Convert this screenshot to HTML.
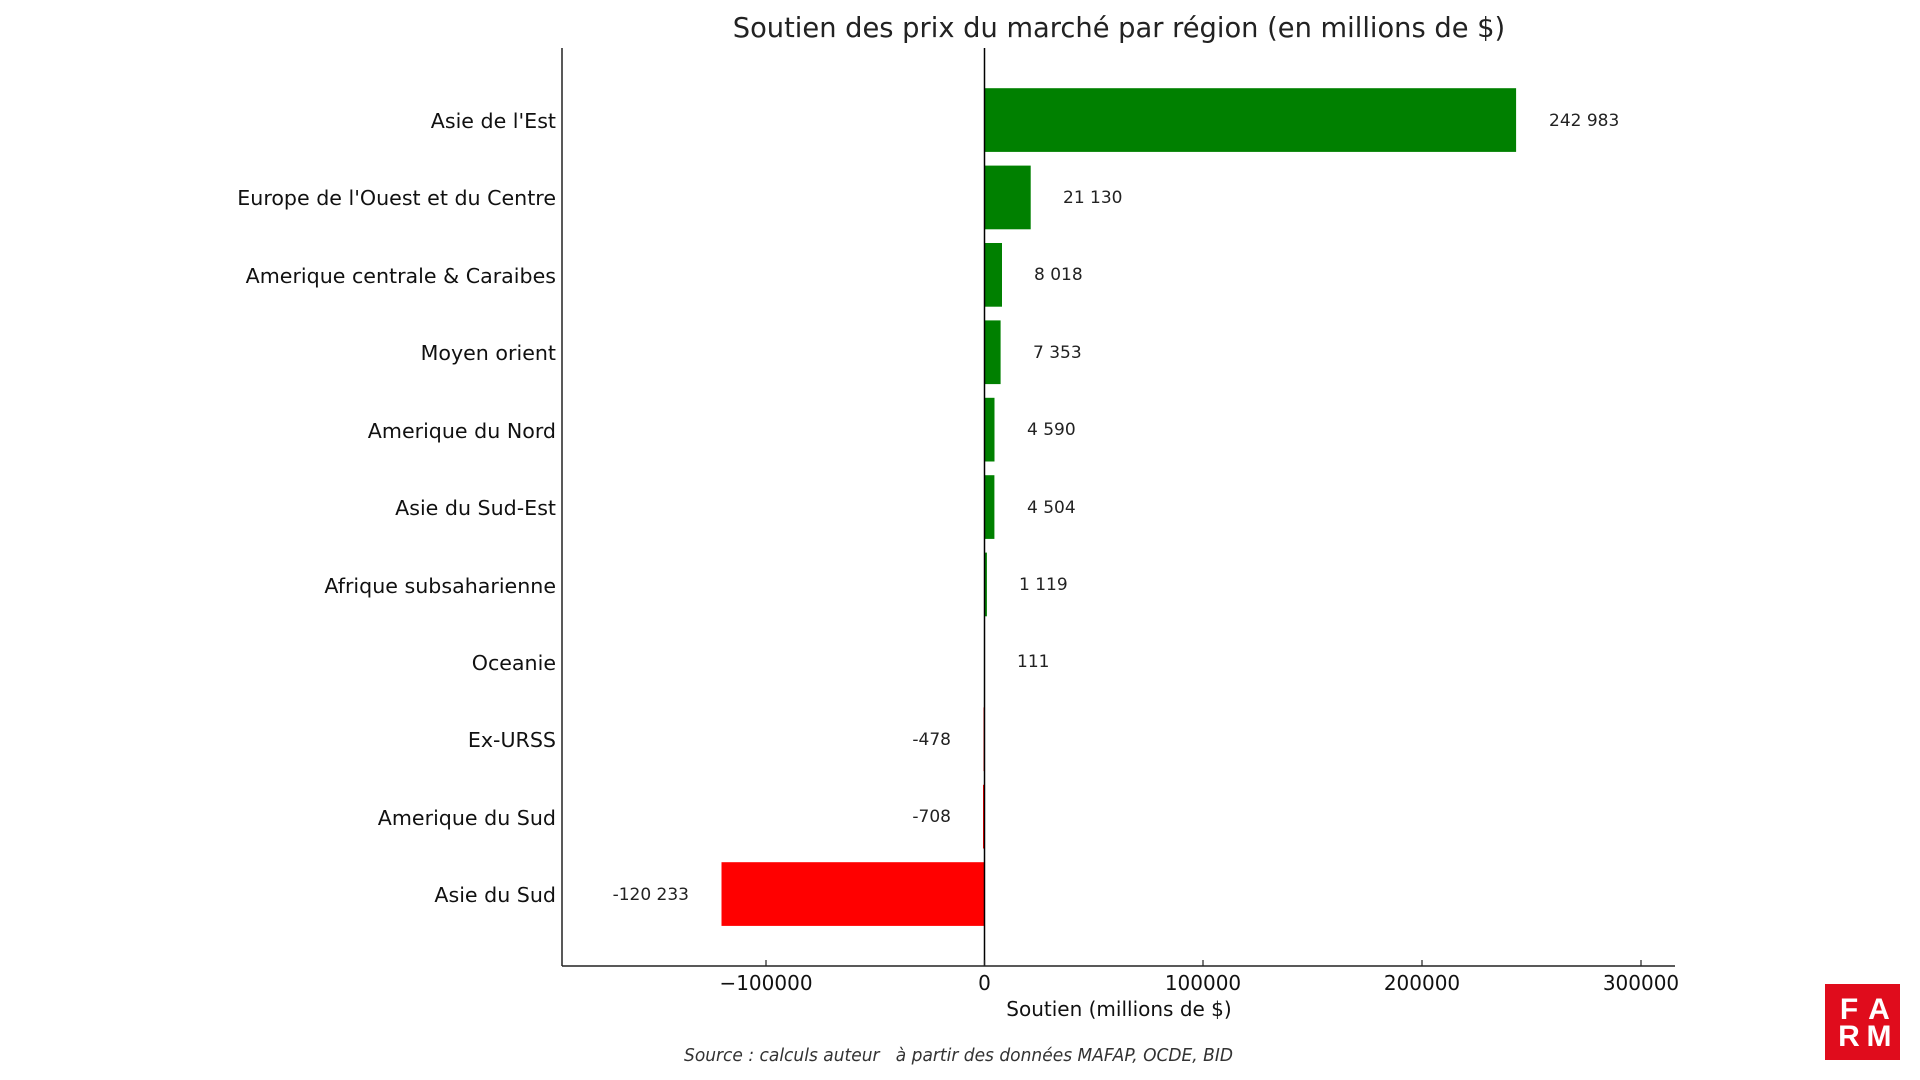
<!DOCTYPE html>
<html><head><meta charset="utf-8"><style>body{margin:0;background:#fff}svg{display:block}</style></head>
<body>
<svg width="1920" height="1080" xmlns="http://www.w3.org/2000/svg" font-family="DejaVu Sans, Liberation Sans, sans-serif">
<text x="1119" y="37" font-size="27.3" text-anchor="middle" fill="#222">Soutien des prix du marché par région (en millions de $)</text>
<g>
<rect x="984.5" y="88.2" width="531.6" height="63.7" fill="#008000"/>
<rect x="984.5" y="165.6" width="46.2" height="63.7" fill="#008000"/>
<rect x="984.5" y="243" width="17.5" height="63.7" fill="#008000"/>
<rect x="984.5" y="320.4" width="16.1" height="63.7" fill="#008000"/>
<rect x="984.5" y="397.8" width="10" height="63.7" fill="#008000"/>
<rect x="984.5" y="475.2" width="9.9" height="63.7" fill="#008000"/>
<rect x="984.5" y="552.6" width="2.4" height="63.7" fill="#008000"/>
<rect x="984.5" y="630" width="0.5" height="63.7" fill="#008000"/>
<rect x="983.5" y="707.4" width="1.0" height="63.7" fill="#ff0000"/>
<rect x="983" y="784.8" width="1.5" height="63.7" fill="#ff0000"/>
<rect x="721.5" y="862.2" width="263" height="63.7" fill="#ff0000"/>
</g>
<line x1="984.5" y1="48" x2="984.5" y2="966" stroke="#000" stroke-width="1.5"/>
<line x1="562" y1="48" x2="562" y2="966" stroke="#222" stroke-width="1.5"/>
<line x1="562" y1="966" x2="1675" y2="966" stroke="#222" stroke-width="1.5"/>
<g stroke="#222" stroke-width="1.2">
<line x1="766" y1="966" x2="766" y2="960"/><line x1="984.5" y1="966" x2="984.5" y2="960"/>
<line x1="1203" y1="966" x2="1203" y2="960"/><line x1="1422" y1="966" x2="1422" y2="960"/>
<line x1="1641" y1="966" x2="1641" y2="960"/>
</g>
<g font-size="20" fill="#111" text-anchor="middle">
<text x="766" y="990">−100000</text><text x="984.5" y="990">0</text>
<text x="1203" y="990">100000</text><text x="1422" y="990">200000</text><text x="1641" y="990">300000</text>
<text x="1119" y="1016">Soutien (millions de $)</text>
</g>
<g font-size="20.6" fill="#111" text-anchor="end">
<text x="556" y="128">Asie de l'Est</text>
<text x="556" y="205">Europe de l'Ouest et du Centre</text>
<text x="556" y="283">Amerique centrale &amp; Caraibes</text>
<text x="556" y="360">Moyen orient</text>
<text x="556" y="438">Amerique du Nord</text>
<text x="556" y="515">Asie du Sud-Est</text>
<text x="556" y="593">Afrique subsaharienne</text>
<text x="556" y="670">Oceanie</text>
<text x="556" y="747">Ex-URSS</text>
<text x="556" y="825">Amerique du Sud</text>
<text x="556" y="902">Asie du Sud</text>
</g>
<g font-size="17" fill="#222">
<text x="1549" y="126">242 983</text>
<text x="1063" y="203">21 130</text>
<text x="1034" y="280">8 018</text>
<text x="1033" y="358">7 353</text>
<text x="1027" y="435">4 590</text>
<text x="1027" y="513">4 504</text>
<text x="1019" y="590">1 119</text>
<text x="1017" y="667">111</text>
<text x="951" y="745" text-anchor="end">-478</text>
<text x="951" y="822" text-anchor="end">-708</text>
<text x="689" y="900" text-anchor="end">-120 233</text>
</g>
<text x="684" y="1061" font-size="17.4" font-style="italic" fill="#333" textLength="549" lengthAdjust="spacingAndGlyphs" xml:space="preserve">Source : calculs auteur   à partir des données MAFAP, OCDE, BID</text>
<rect x="1825" y="984" width="75" height="76" fill="#e00c1c"/>
<g fill="#fff" font-size="30" font-weight="bold" font-family="Liberation Sans, sans-serif" text-anchor="middle">
<text x="1849" y="1019">F</text><text x="1879" y="1019">A</text>
<text x="1849" y="1046">R</text><text x="1879" y="1046">M</text>
</g>
</svg>
</body></html>
